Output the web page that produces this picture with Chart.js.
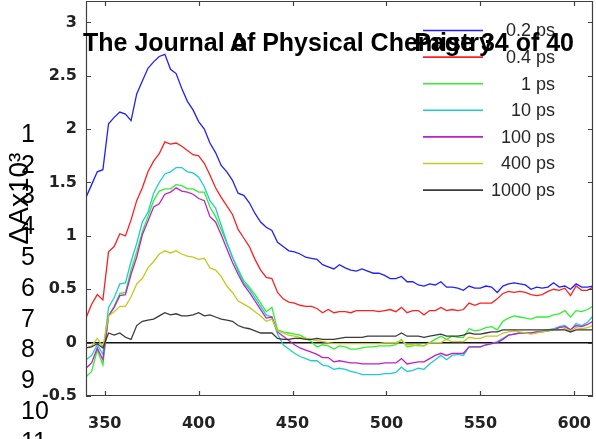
<!DOCTYPE html>
<html>
<head>
<meta charset="utf-8">
<script src="https://cdn.jsdelivr.net/npm/chart.js@4/dist/chart.umd.min.js"></script>
<style>
  body { margin: 0; background: #fff; }
  canvas { display: block; }
</style>
</head>
<body>
<canvas id="spectra-chart" width="596" height="439"></canvas>
<script>
// wavelength (nm)
const wavelengths = [340, 343, 346, 349, 352, 355, 358, 361, 364, 367, 370, 373, 376, 379, 382, 385, 388, 391, 394, 397,
  400, 403, 406, 409, 412, 415, 418, 421, 424, 427, 430, 433, 436, 439, 442, 445, 448, 451, 454, 457,
  460, 463, 466, 469, 472, 475, 478, 481, 484, 487, 490, 493, 496, 499, 502, 505, 508, 511, 514, 517,
  520, 523, 526, 529, 532, 535, 538, 541, 544, 547, 550, 553, 556, 559, 562, 565, 568, 571, 574, 577,
  580, 583, 586, 589, 592, 595, 598, 601, 604, 607, 610];

const xTicks = [350, 400, 450, 500, 550, 600];
const yTicks = [-0.5, 0, 0.5, 1, 1.5, 2, 2.5, 3];

const delays = ['0.2 ps', '0.4 ps', '1 ps', '10 ps', '100 ps', '400 ps', '1000 ps'];
const colors = ['#1f1fff', '#ff1f1f', '#2ef02e', '#1fcccc', '#bf1fcc', '#c8c820', '#3a3a3a'];

// dA x 10^3
const dA_0_2ps = [1.36, 1.48, 1.60, 1.62, 2.05, 2.11, 2.16, 2.14, 2.08, 2.33, 2.45, 2.57, 2.63, 2.68, 2.70, 2.56, 2.52, 2.38, 2.26, 2.18,
  2.07, 2.00, 1.87, 1.78, 1.66, 1.60, 1.52, 1.40, 1.38, 1.31, 1.21, 1.13, 1.08, 1.05, 0.94, 0.90, 0.86, 0.85, 0.83, 0.80,
  0.79, 0.78, 0.73, 0.71, 0.69, 0.73, 0.70, 0.68, 0.67, 0.69, 0.67, 0.65, 0.65, 0.63, 0.60, 0.60, 0.62, 0.57, 0.57, 0.54,
  0.53, 0.55, 0.54, 0.57, 0.52, 0.52, 0.51, 0.49, 0.53, 0.51, 0.51, 0.53, 0.52, 0.47, 0.53, 0.55, 0.56, 0.55, 0.54, 0.50,
  0.52, 0.51, 0.52, 0.56, 0.52, 0.53, 0.50, 0.55, 0.52, 0.52, 0.53];
const dA_0_4ps = [0.23, 0.36, 0.45, 0.40, 0.85, 0.90, 1.02, 1.00, 1.15, 1.33, 1.45, 1.60, 1.70, 1.77, 1.88, 1.86, 1.87, 1.84, 1.80, 1.76,
  1.75, 1.68, 1.57, 1.45, 1.36, 1.28, 1.20, 1.06, 0.98, 0.90, 0.78, 0.68, 0.61, 0.60, 0.47, 0.41, 0.38, 0.37, 0.35, 0.34,
  0.34, 0.32, 0.28, 0.31, 0.28, 0.29, 0.29, 0.28, 0.30, 0.30, 0.30, 0.30, 0.29, 0.30, 0.31, 0.29, 0.33, 0.28, 0.30, 0.30,
  0.26, 0.30, 0.30, 0.33, 0.30, 0.31, 0.30, 0.31, 0.37, 0.35, 0.37, 0.37, 0.37, 0.41, 0.46, 0.48, 0.47, 0.48, 0.47, 0.45,
  0.44, 0.45, 0.48, 0.50, 0.49, 0.51, 0.44, 0.53, 0.49, 0.49, 0.52];
const dA_1ps = [-0.32, -0.27, -0.07, -0.21, 0.25, 0.34, 0.46, 0.47, 0.68, 0.85, 1.04, 1.18, 1.33, 1.42, 1.44, 1.44, 1.48, 1.47, 1.44, 1.44,
  1.41, 1.41, 1.27, 1.18, 1.06, 0.93, 0.80, 0.69, 0.58, 0.52, 0.45, 0.37, 0.29, 0.33, 0.12, 0.10, 0.09, 0.08, 0.07, 0.04,
  0.01, -0.04, -0.02, -0.03, -0.06, -0.03, -0.04, -0.06, -0.06, -0.05, -0.04, -0.04, -0.03, -0.03, -0.03, -0.02, 0.03, -0.04, -0.03, -0.02,
  -0.03, 0.00, 0.03, 0.06, 0.03, 0.06, 0.05, 0.05, 0.13, 0.11, 0.12, 0.14, 0.15, 0.12, 0.20, 0.23, 0.25, 0.24, 0.23, 0.22,
  0.24, 0.24, 0.24, 0.26, 0.27, 0.30, 0.24, 0.30, 0.29, 0.31, 0.34];
const dA_10ps = [-0.16, -0.12, -0.02, -0.11, 0.33, 0.42, 0.55, 0.56, 0.76, 0.93, 1.13, 1.22, 1.40, 1.50, 1.58, 1.60, 1.64, 1.64, 1.60, 1.59,
  1.55, 1.46, 1.33, 1.26, 1.10, 0.94, 0.80, 0.67, 0.56, 0.50, 0.42, 0.34, 0.26, 0.24, 0.08, -0.02, -0.06, -0.10, -0.13, -0.15,
  -0.17, -0.17, -0.21, -0.22, -0.25, -0.24, -0.25, -0.27, -0.28, -0.30, -0.30, -0.30, -0.30, -0.29, -0.29, -0.28, -0.23, -0.27, -0.26, -0.24,
  -0.25, -0.20, -0.16, -0.12, -0.16, -0.12, -0.11, -0.12, -0.04, -0.04, -0.04, -0.02, -0.01, 0.01, 0.04, 0.07, 0.08, 0.09, 0.09, 0.09,
  0.10, 0.11, 0.12, 0.13, 0.15, 0.16, 0.12, 0.18, 0.16, 0.19, 0.25];
const dA_100ps = [-0.24, -0.19, -0.05, -0.16, 0.25, 0.33, 0.44, 0.45, 0.64, 0.80, 1.01, 1.14, 1.27, 1.30, 1.39, 1.41, 1.45, 1.42, 1.41, 1.39,
  1.35, 1.33, 1.18, 1.13, 1.01, 0.88, 0.75, 0.64, 0.54, 0.47, 0.39, 0.31, 0.23, 0.24, 0.10, 0.06, 0.02, -0.02, -0.05, -0.07,
  -0.09, -0.11, -0.14, -0.14, -0.18, -0.17, -0.18, -0.19, -0.19, -0.20, -0.20, -0.20, -0.20, -0.19, -0.19, -0.19, -0.15, -0.20, -0.19, -0.18,
  -0.18, -0.15, -0.12, -0.10, -0.12, -0.10, -0.10, -0.10, -0.04, -0.04, -0.04, -0.02, -0.01, 0.00, 0.03, 0.07, 0.08, 0.09, 0.09, 0.09,
  0.10, 0.10, 0.11, 0.12, 0.14, 0.15, 0.12, 0.16, 0.15, 0.17, 0.20];
const dA_400ps = [-0.05, -0.03, 0.04, -0.04, 0.25, 0.29, 0.34, 0.34, 0.43, 0.55, 0.60, 0.70, 0.76, 0.83, 0.86, 0.84, 0.86, 0.83, 0.81, 0.80,
  0.78, 0.79, 0.70, 0.68, 0.62, 0.53, 0.47, 0.39, 0.36, 0.33, 0.29, 0.25, 0.20, 0.22, 0.11, 0.09, 0.07, 0.06, 0.05, 0.04,
  0.03, 0.02, 0.01, 0.00, -0.01, -0.01, -0.01, -0.01, -0.01, -0.01, -0.01, -0.01, -0.01, 0.00, 0.00, 0.00, 0.02, -0.02, -0.02, -0.03,
  -0.03, 0.00, 0.00, 0.00, 0.03, 0.01, 0.01, 0.01, 0.05, 0.04, 0.04, 0.06, 0.06, 0.06, 0.09, 0.10, 0.11, 0.10, 0.09, 0.08,
  0.09, 0.10, 0.11, 0.12, 0.12, 0.13, 0.11, 0.14, 0.13, 0.14, 0.16];
const dA_1000ps = [-0.05, -0.04, -0.01, -0.05, 0.09, 0.07, 0.09, 0.05, 0.03, 0.16, 0.20, 0.21, 0.22, 0.25, 0.28, 0.26, 0.27, 0.25, 0.25, 0.26,
  0.28, 0.25, 0.26, 0.24, 0.22, 0.21, 0.20, 0.16, 0.14, 0.13, 0.11, 0.09, 0.09, 0.09, 0.04, 0.03, 0.03, 0.04, 0.04, 0.03,
  0.03, 0.04, 0.03, 0.03, 0.03, 0.04, 0.05, 0.05, 0.05, 0.05, 0.06, 0.06, 0.06, 0.06, 0.06, 0.06, 0.09, 0.06, 0.06, 0.06,
  0.05, 0.06, 0.07, 0.08, 0.06, 0.06, 0.06, 0.07, 0.09, 0.08, 0.08, 0.09, 0.10, 0.10, 0.12, 0.12, 0.12, 0.12, 0.12, 0.12,
  0.12, 0.12, 0.12, 0.12, 0.12, 0.12, 0.10, 0.12, 0.12, 0.12, 0.12];

const series = [dA_0_2ps, dA_0_4ps, dA_1ps, dA_10ps, dA_100ps, dA_400ps, dA_1000ps];

const FONT = "'Liberation Sans', Arial, Helvetica, sans-serif";
const TICK_FONT = "'DejaVu Sans', sans-serif";
Chart.defaults.font.family = FONT;

// matlab style box with inward ticks on all four sides
const boxAxes = {
  id: 'boxAxes',
  afterDatasetsDraw(chart) {
    const { ctx, chartArea: a, scales: { x, y } } = chart;
    ctx.save();
    ctx.strokeStyle = '#404040';
    ctx.lineWidth = 1.2;
    ctx.beginPath();
    ctx.rect(a.left + 0.5, a.top + 0.5, a.right - a.left - 1, a.bottom - a.top - 1);
    x.ticks.forEach((t) => {
      const px = Math.round(x.getPixelForValue(t.value)) + 0.5;
      ctx.moveTo(px, a.bottom);
      ctx.lineTo(px, a.bottom - 5);
      ctx.moveTo(px, a.top);
      ctx.lineTo(px, a.top + 5);
    });
    y.ticks.forEach((t) => {
      const py = Math.round(y.getPixelForValue(t.value)) + 0.5;
      ctx.moveTo(a.left, py);
      ctx.lineTo(a.left + 5, py);
      ctx.moveTo(a.right, py);
      ctx.lineTo(a.right - 5, py);
    });
    ctx.stroke();
    ctx.restore();
  },
};

// legend drawn as a vertical matlab legend, no box
const delayLegend = {
  id: 'delayLegend',
  afterDraw(chart) {
    const { ctx } = chart;
    ctx.save();
    ctx.font = '18px ' + FONT;
    ctx.fillStyle = '#262626';
    ctx.textAlign = 'right';
    ctx.textBaseline = 'middle';
    chart.data.datasets.forEach((ds, i) => {
      const yy = 30.5 + i * 26.6;
      ctx.strokeStyle = ds.borderColor;
      ctx.lineWidth = 1.6;
      ctx.beginPath();
      ctx.moveTo(423, yy);
      ctx.lineTo(483, yy);
      ctx.stroke();
      ctx.fillText(ds.label, 555, yy + 1);
    });
    ctx.restore();
  },
};

// page furniture of the manuscript the figure was cut from
const pageText = {
  id: 'pageText',
  afterDraw(chart) {
    const { ctx } = chart;
    ctx.save();
    ctx.fillStyle = '#000';
    ctx.font = '25px ' + FONT;
    ctx.textAlign = 'left';
    ctx.textBaseline = 'middle';
    for (let n = 1; n <= 11; n++) {
      ctx.fillText(String(n), 21, 135 + (n - 1) * 30.8);
    }
    ctx.font = 'bold 25px ' + FONT;
    ctx.textBaseline = 'alphabetic';
    const head = 'The Journal of Physical Chemistry';
    ctx.fillText(head, 83, 51);
    ctx.fillText('A', 83 + ctx.measureText('The Journal ').width - 2, 51);
    ctx.textAlign = 'right';
    ctx.fillText('Page 34 of 40', 574, 51);
    ctx.restore();
  },
};

const ctx = document.getElementById('spectra-chart').getContext('2d');

new Chart(ctx, {
  type: 'line',
  data: {
    datasets: series.map((values, i) => ({
      label: delays[i],
      data: wavelengths.map((w, j) => ({ x: w, y: values[j] })),
      borderColor: colors[i],
      borderWidth: 1.3,
      pointRadius: 0,
      tension: 0,
      fill: false,
      order: series.length - i,
    })),
  },
  options: {
    responsive: false,
    animation: false,
    layout: { padding: { top: 1, right: 3, left: 0, bottom: 0 } },
    plugins: {
      legend: { display: false },
      tooltip: { enabled: false },
    },
    scales: {
      x: {
        type: 'linear',
        min: 340,
        max: 610,
        afterBuildTicks: (scale) => {
          scale.ticks = xTicks.map((v) => ({ value: v }));
        },
        afterFit: (scale) => {
          scale.height = 43;
          scale.paddingLeft = 0;
          scale.paddingRight = 0;
        },
        grid: { display: false, drawTicks: false },
        border: { display: false },
        ticks: {
          font: { family: TICK_FONT, size: 16, weight: 'bold' },
          color: '#222',
          padding: 18,
          maxRotation: 0,
          callback: (v) => String(v),
        },
      },
      y: {
        type: 'linear',
        min: -0.5,
        max: 3.2,
        afterBuildTicks: (scale) => {
          scale.ticks = yTicks.map((v) => ({ value: v }));
        },
        afterFit: (scale) => {
          scale.width = 86;
          scale.paddingTop = 0;
          scale.paddingBottom = 0;
        },
        grid: {
          drawTicks: false,
          lineWidth: 1.4,
          color: (c) => (c.tick && c.tick.value === 0 ? '#111' : 'transparent'),
        },
        border: { display: false },
        ticks: {
          font: { family: TICK_FONT, size: 16, weight: 'bold' },
          color: '#222',
          padding: 9,
          callback: (v) => String(v),
        },
        title: {
          display: true,
          text: 'ΔAx10³',
          font: { size: 28 },
          color: '#000',
          padding: { top: 3, bottom: 0 },
        },
      },
    },
  },
  plugins: [boxAxes, delayLegend, pageText],
});
</script>
</body>
</html>
